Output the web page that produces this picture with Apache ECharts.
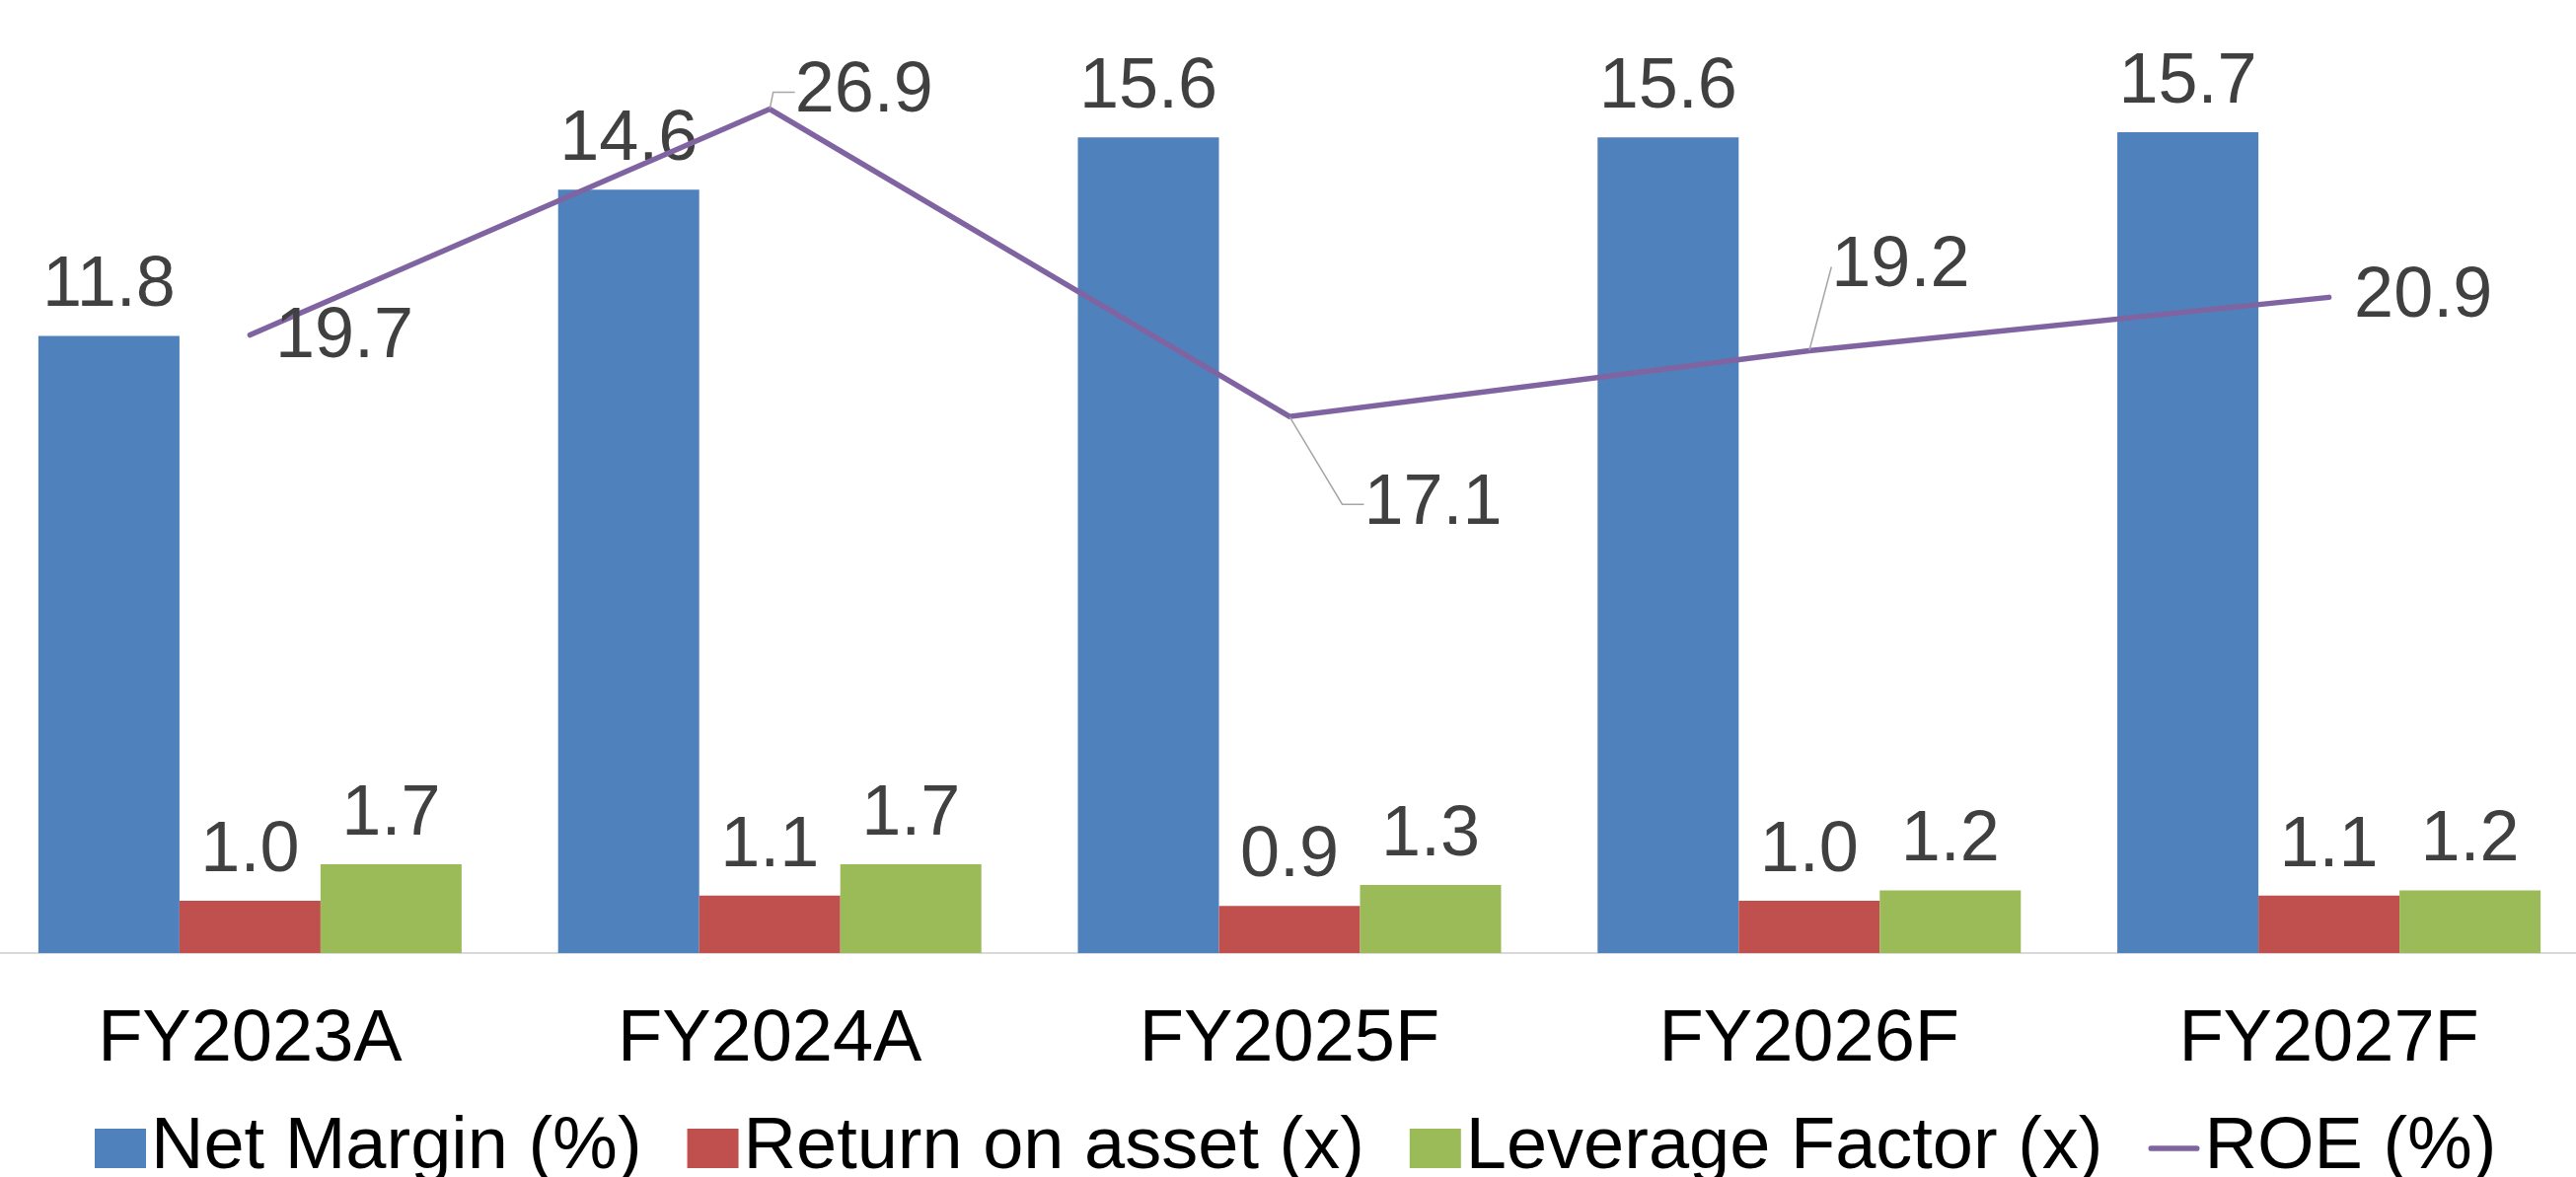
<!DOCTYPE html>
<html>
<head>
<meta charset="utf-8">
<title>Net Margin, Return on asset, Leverage Factor and ROE</title>
<script src="https://cdn.jsdelivr.net/npm/echarts@6/dist/echarts.min.js"></script>
<style>
  html, body { margin: 0; padding: 0; background: #ffffff; overflow: hidden; }
  /* plot area runs slightly past both window edges */
  #chart { width: 2634px; height: 1193px; margin-left: -10px; }
</style>
</head>
<body>
<div id="chart"></div>
<script>
// Fiscal years on the category axis
const categories = ['FY2023A', 'FY2024A', 'FY2025F', 'FY2026F', 'FY2027F'];

// Series values
const netMargin = [11.8, 14.6, 15.6, 15.6, 15.7];   // %
const returnOnAsset = [1.0, 1.1, 0.9, 1.0, 1.1];     // x
const leverageFactor = [1.7, 1.7, 1.3, 1.2, 1.2];    // x
const roe = [19.7, 26.9, 17.1, 19.2, 20.9];          // %

// Series names shown in the legend
const seriesNames = ['Net Margin (%)', 'Return on asset (x)', 'Leverage Factor (x)', 'ROE (%)'];

// Shifts for the ROE labels that sit away from their points (pixels)
const roeLabelShift = [
  { dy: 3 },
  { dy: -17 },
  { dx: 50, dy: 89 },
  { dx: -3, dy: -85 },
  {}
];
// Leader lines: null = none, otherwise length of the short end segment
const roeLeader = [null, 22, 22, 0, null];

const FONT = '"Liberation Sans", Arial, sans-serif';
const LABEL_COLOR = '#404040';
const colors = ['#4F81BD', '#C0504D', '#9BBB59', '#8064A2'];

function barSeries(name, values, color) {
  return {
    name: name,
    type: 'bar',
    yAxisIndex: 0,
    barWidth: 143,
    barGap: '0%',
    data: values,
    itemStyle: { color: color },
    label: {
      show: true,
      position: 'top',
      distance: 14,
      color: LABEL_COLOR,
      fontFamily: FONT,
      fontSize: 72,
      formatter: (p) => p.value.toFixed(1)
    },
    emphasis: { disabled: true },
    z: 2
  };
}

const chart = echarts.init(document.getElementById('chart'), null, { renderer: 'canvas' });

chart.setOption({
  animation: false,
  backgroundColor: '#ffffff',
  color: colors,
  textStyle: { fontFamily: FONT },
  grid: { left: 0, right: 0, top: 12, bottom: 227, containLabel: false },
  legend: {
    top: 1122,
    left: 101,
    itemWidth: 52,
    itemHeight: 40,
    itemGap: 46,
    textStyle: { color: '#000000', fontSize: 74, fontFamily: FONT },
    data: [
      { name: seriesNames[0], icon: 'rect' },
      { name: seriesNames[1], icon: 'rect' },
      { name: seriesNames[2], icon: 'rect' },
      { name: seriesNames[3], icon: 'path://M3,0 L52,0 A3,3 0 0 1 52,6 L3,6 A3,3 0 0 1 3,0 Z' }
    ]
  },
  xAxis: {
    type: 'category',
    data: categories,
    axisTick: { show: false },
    axisLine: { show: true, lineStyle: { color: '#D9D9D9', width: 2 } },
    axisLabel: {
      color: '#000000',
      fontSize: 74,
      fontFamily: FONT,
      margin: 52,
      interval: 0
    },
    splitLine: { show: false }
  },
  yAxis: [
    { type: 'value', min: 0, max: 18, show: false, splitLine: { show: false } },
    { type: 'value', min: 0, max: 30, show: false, splitLine: { show: false } }
  ],
  series: [
    barSeries(seriesNames[0], netMargin, colors[0]),
    barSeries(seriesNames[1], returnOnAsset, colors[1]),
    barSeries(seriesNames[2], leverageFactor, colors[2]),
    {
      name: seriesNames[3],
      type: 'line',
      yAxisIndex: 1,
      data: roe.map((v, i) => ({
        value: v,
        labelLine: {
          show: roeLeader[i] !== null,
          length2: roeLeader[i] || 0,
          lineStyle: { color: '#A6A6A6', width: 1.5 }
        }
      })),
      symbol: 'circle',
      symbolSize: 1,
      showSymbol: true,
      lineStyle: { color: colors[3], width: 5.5, cap: 'round', join: 'miter' },
      itemStyle: { color: colors[3] },
      label: {
        show: true,
        position: 'right',
        distance: 25,
        color: LABEL_COLOR,
        fontFamily: FONT,
        fontSize: 72,
        formatter: (p) => p.value.toFixed(1)
      },
      labelLayout: (p) => roeLabelShift[p.dataIndex],
      emphasis: { disabled: true },
      z: 5
    }
  ]
});
</script>
</body>
</html>
